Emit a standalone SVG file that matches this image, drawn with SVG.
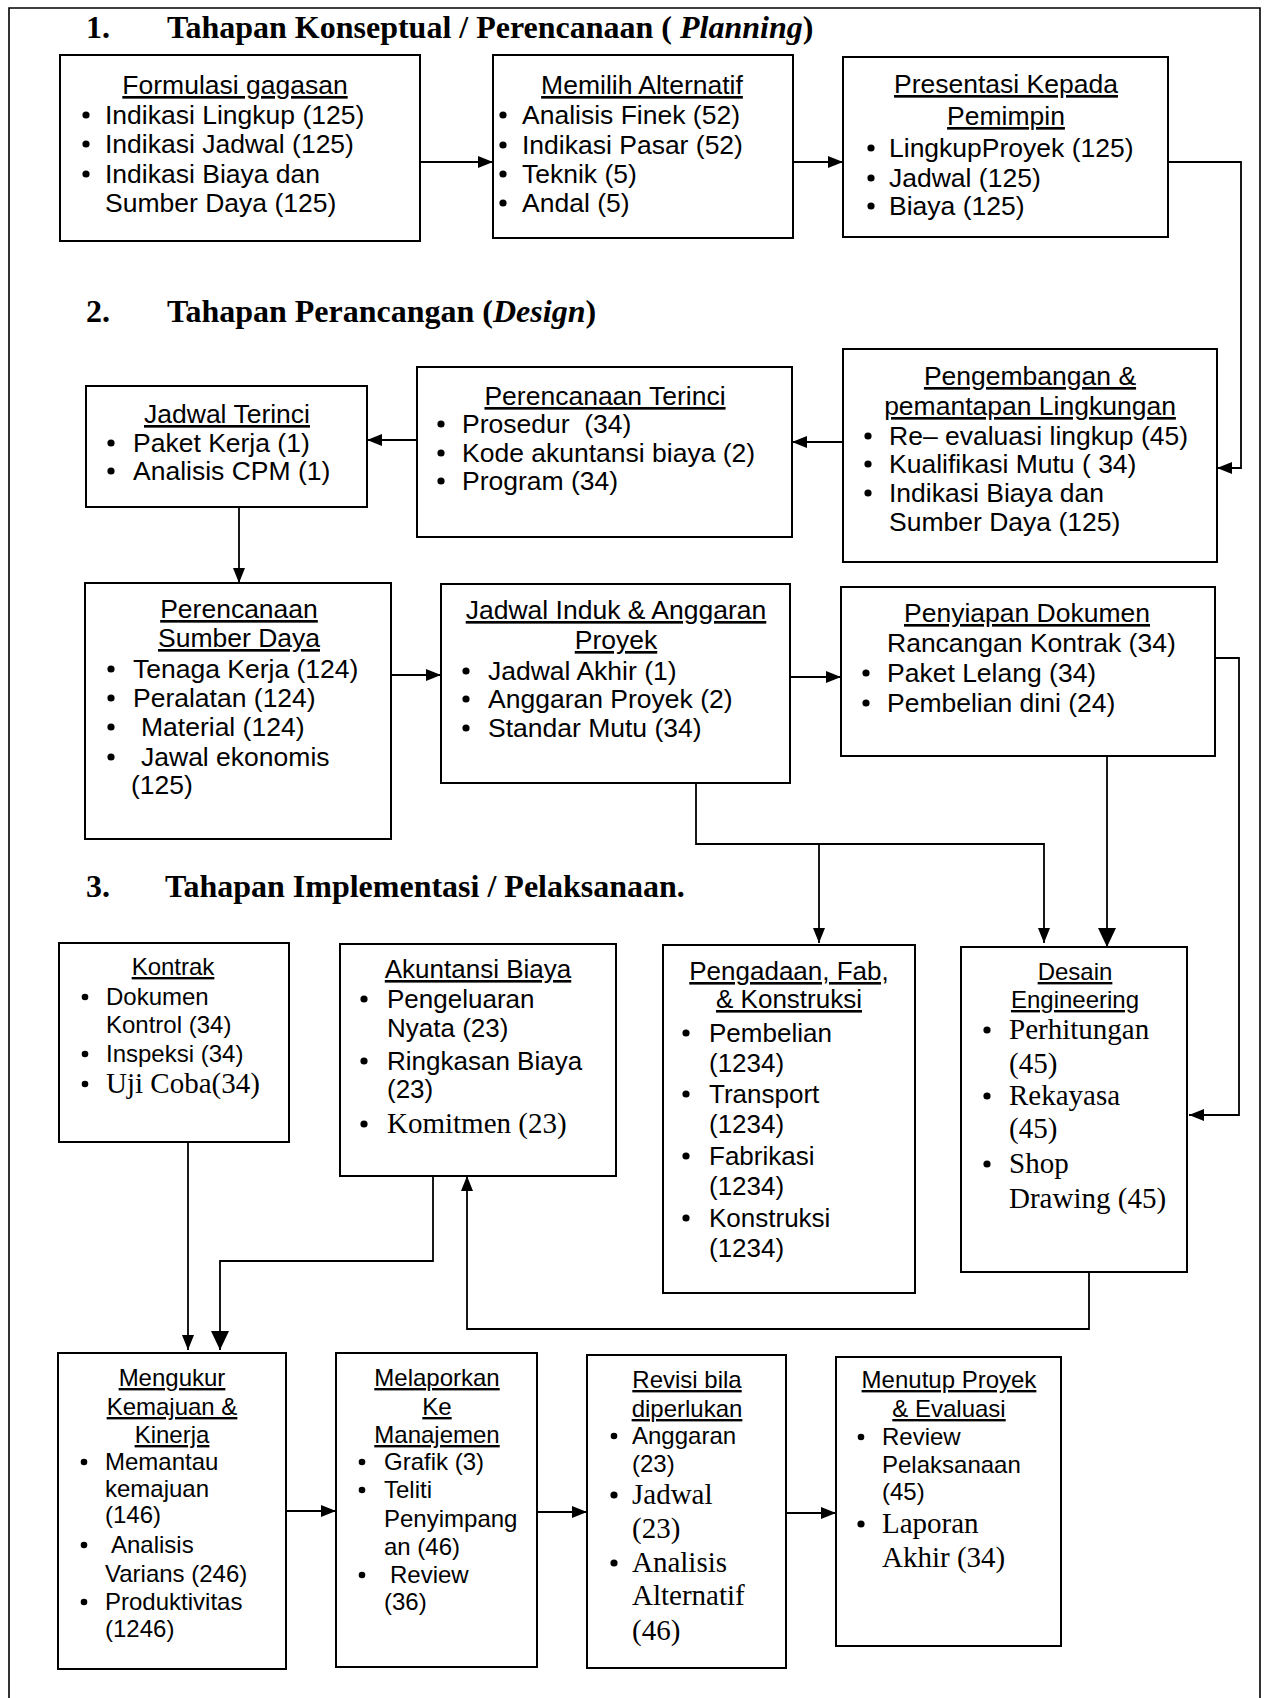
<svg xmlns="http://www.w3.org/2000/svg" width="1269" height="1698" viewBox="0 0 1269 1698">
<style>
  .box{fill:#fff;stroke:#000;stroke-width:2}
  .frame{fill:none;stroke:#000;stroke-width:1.6}
  .con{fill:none;stroke:#000;stroke-width:1.8}
  .h{font-family:"Liberation Serif","Times New Roman",serif;font-weight:bold;font-size:32px;fill:#000}
  .s27{font-family:"Liberation Sans",Arial,sans-serif;font-size:26.5px;fill:#000}
  .s26{font-family:"Liberation Sans",Arial,sans-serif;font-size:26px;fill:#000}
  .s24{font-family:"Liberation Sans",Arial,sans-serif;font-size:24px;fill:#000}
  .t29{font-family:"Liberation Serif","Times New Roman",serif;font-size:29px;fill:#000}
  .u{text-decoration:underline}
  .c{text-anchor:middle}
  .b{fill:#000}
</style>
<defs>
  <marker id="ar" markerUnits="userSpaceOnUse" markerWidth="16" markerHeight="14" refX="15" refY="7" orient="auto">
    <path d="M0,1 L15,7 L0,13 Z" fill="#000"/>
  </marker>
  <marker id="arB" markerUnits="userSpaceOnUse" markerWidth="20" markerHeight="18" refX="19" refY="9" orient="auto">
    <path d="M0,0 L19,9 L0,18 Z" fill="#000"/>
  </marker>
</defs>
<rect width="1269" height="1698" fill="#fff"/>
<path class="frame" d="M9,1698 V8 H1260 V1698"/>

<g id="titles">
  <text class="h" x="86" y="38">1.</text>
  <text class="h" x="167" y="38">Tahapan Konseptual / Perencanaan ( <tspan font-style="italic">Planning</tspan>)</text>
  <text class="h" x="86" y="322">2.</text>
  <text class="h" x="167" y="322">Tahapan Perancangan (<tspan font-style="italic">Design</tspan>)</text>
  <text class="h" x="86" y="897">3.</text>
  <text class="h" x="165" y="897">Tahapan Implementasi / Pelaksanaan.</text>
</g>

<g id="connectors">
  <path class="con" d="M420,162 H493" marker-end="url(#ar)"/>
  <path class="con" d="M793,162 H843" marker-end="url(#ar)"/>
  <path class="con" d="M1168,162 H1241 V468 H1217" marker-end="url(#ar)"/>
  <path class="con" d="M843,442 H792" marker-end="url(#ar)"/>
  <path class="con" d="M417,440 H367" marker-end="url(#ar)"/>
  <path class="con" d="M239,507 V583" marker-end="url(#ar)"/>
  <path class="con" d="M391,675 H441" marker-end="url(#ar)"/>
  <path class="con" d="M790,677 H841" marker-end="url(#ar)"/>
  <path class="con" d="M696,783 V844 H1044 V943" marker-end="url(#ar)"/>
  <path class="con" d="M819,844 V943" marker-end="url(#ar)"/>
  <path class="con" d="M1107,756 V947" stroke-width="2.4" marker-end="url(#arB)"/>
  <path class="con" d="M1215,658 H1239 V1115 H1189" marker-end="url(#ar)"/>
  <path class="con" d="M1089,1272 V1329 H467 V1176" marker-end="url(#ar)"/>
  <path class="con" d="M188,1142 V1350" marker-end="url(#ar)"/>
  <path class="con" d="M433,1176 V1261 H220 V1350" stroke-width="2.4" marker-end="url(#arB)"/>
  <path class="con" d="M286,1511 H336" marker-end="url(#ar)"/>
  <path class="con" d="M537,1512 H587" marker-end="url(#ar)"/>
  <path class="con" d="M786,1513 H836" marker-end="url(#ar)"/>
</g>

<g id="formulasi">
  <rect class="box" x="60" y="55" width="360" height="186"/>
  <text class="s27 u c" x="235" y="94">Formulasi gagasan</text>
  <circle class="b" cx="86" cy="115" r="3.6"/><text class="s27" x="105" y="124">Indikasi Lingkup (125)</text>
  <circle class="b" cx="86" cy="144" r="3.6"/><text class="s27" x="105" y="153">Indikasi Jadwal (125)</text>
  <circle class="b" cx="86" cy="174" r="3.6"/><text class="s27" x="105" y="183">Indikasi Biaya dan</text>
  <text class="s27" x="105" y="212">Sumber Daya (125)</text>
</g>

<g id="memilih">
  <rect class="box" x="493" y="55" width="300" height="183"/>
  <text class="s27 u c" x="642" y="94">Memilih Alternatif</text>
  <circle class="b" cx="503" cy="115" r="3.6"/><text class="s27" x="522" y="124">Analisis Finek (52)</text>
  <circle class="b" cx="503" cy="145" r="3.6"/><text class="s27" x="522" y="154">Indikasi Pasar (52)</text>
  <circle class="b" cx="503" cy="174" r="3.6"/><text class="s27" x="522" y="183">Teknik (5)</text>
  <circle class="b" cx="503" cy="203" r="3.6"/><text class="s27" x="522" y="212">Andal (5)</text>
</g>

<g id="presentasi">
  <rect class="box" x="843" y="57" width="325" height="180"/>
  <text class="s27 u c" x="1006" y="93">Presentasi Kepada</text>
  <text class="s27 u c" x="1006" y="125">Pemimpin</text>
  <circle class="b" cx="871" cy="148" r="3.6"/><text class="s27" x="889" y="157">LingkupProyek (125)</text>
  <circle class="b" cx="871" cy="178" r="3.6"/><text class="s27" x="889" y="187">Jadwal (125)</text>
  <circle class="b" cx="871" cy="206" r="3.6"/><text class="s27" x="889" y="215">Biaya (125)</text>
</g>

<g id="pengembangan">
  <rect class="box" x="843" y="349" width="374" height="213"/>
  <text class="s27 u c" x="1030" y="385">Pengembangan &amp;</text>
  <text class="s27 u c" x="1030" y="415">pemantapan Lingkungan</text>
  <circle class="b" cx="868" cy="436" r="3.6"/><text class="s27" x="889" y="445">Re– evaluasi lingkup (45)</text>
  <circle class="b" cx="868" cy="464" r="3.6"/><text class="s27" x="889" y="473">Kualifikasi Mutu ( 34)</text>
  <circle class="b" cx="868" cy="493" r="3.6"/><text class="s27" x="889" y="502">Indikasi Biaya dan</text>
  <text class="s27" x="889" y="531">Sumber Daya (125)</text>
</g>

<g id="perencanaan-terinci">
  <rect class="box" x="417" y="367" width="375" height="170"/>
  <text class="s27 u c" x="605" y="405">Perencanaan Terinci</text>
  <circle class="b" cx="441" cy="424" r="3.6"/><text class="s27" x="462" y="433" xml:space="preserve">Prosedur  (34)</text>
  <circle class="b" cx="441" cy="453" r="3.6"/><text class="s27" x="462" y="462">Kode akuntansi biaya (2)</text>
  <circle class="b" cx="441" cy="481" r="3.6"/><text class="s27" x="462" y="490">Program (34)</text>
</g>

<g id="jadwal-terinci">
  <rect class="box" x="86" y="386" width="281" height="121"/>
  <text class="s27 u c" x="227" y="423">Jadwal Terinci</text>
  <circle class="b" cx="111" cy="443" r="3.6"/><text class="s27" x="133" y="452">Paket Kerja (1)</text>
  <circle class="b" cx="111" cy="471" r="3.6"/><text class="s27" x="133" y="480">Analisis CPM (1)</text>
</g>

<g id="perencanaan-sumber-daya">
  <rect class="box" x="85" y="583" width="306" height="256"/>
  <text class="s27 u c" x="239" y="618">Perencanaan</text>
  <text class="s27 u c" x="239" y="647">Sumber Daya</text>
  <circle class="b" cx="111" cy="669" r="3.6"/><text class="s27" x="133" y="678">Tenaga Kerja (124)</text>
  <circle class="b" cx="111" cy="698" r="3.6"/><text class="s27" x="133" y="707">Peralatan (124)</text>
  <circle class="b" cx="111" cy="727" r="3.6"/><text class="s27" x="141" y="736">Material (124)</text>
  <circle class="b" cx="111" cy="757" r="3.6"/><text class="s27" x="141" y="766">Jawal ekonomis</text>
  <text class="s27" x="131" y="794">(125)</text>
</g>

<g id="jadwal-induk">
  <rect class="box" x="441" y="584" width="349" height="199"/>
  <text class="s27 u c" x="616" y="619">Jadwal Induk &amp; Anggaran</text>
  <text class="s27 u c" x="616" y="649">Proyek</text>
  <circle class="b" cx="466" cy="671" r="3.6"/><text class="s27" x="488" y="680">Jadwal Akhir (1)</text>
  <circle class="b" cx="466" cy="699" r="3.6"/><text class="s27" x="488" y="708">Anggaran Proyek (2)</text>
  <circle class="b" cx="466" cy="728" r="3.6"/><text class="s27" x="488" y="737">Standar Mutu (34)</text>
</g>

<g id="penyiapan-dokumen">
  <rect class="box" x="841" y="587" width="374" height="169"/>
  <text class="s27 u c" x="1027" y="622">Penyiapan Dokumen</text>
  <text class="s27" x="887" y="652">Rancangan Kontrak (34)</text>
  <circle class="b" cx="866" cy="673" r="3.6"/><text class="s27" x="887" y="682">Paket Lelang (34)</text>
  <circle class="b" cx="866" cy="703" r="3.6"/><text class="s27" x="887" y="712">Pembelian dini (24)</text>
</g>

<g id="kontrak">
  <rect class="box" x="59" y="943" width="230" height="199"/>
  <text class="s24 u c" x="173" y="975">Kontrak</text>
  <circle class="b" cx="85" cy="997" r="3.3"/><text class="s24" x="106" y="1005">Dokumen</text>
  <text class="s24" x="106" y="1033">Kontrol (34)</text>
  <circle class="b" cx="85" cy="1054" r="3.3"/><text class="s24" x="106" y="1062">Inspeksi (34)</text>
  <circle class="b" cx="85" cy="1084" r="3.3"/><text class="t29" x="106" y="1093">Uji Coba(34)</text>
</g>

<g id="akuntansi-biaya">
  <rect class="box" x="340" y="944" width="276" height="232"/>
  <text class="s26 u c" x="478" y="978">Akuntansi Biaya</text>
  <circle class="b" cx="364" cy="999" r="3.6"/><text class="s26" x="387" y="1008">Pengeluaran</text>
  <text class="s26" x="387" y="1037">Nyata (23)</text>
  <circle class="b" cx="364" cy="1061" r="3.6"/><text class="s26" x="387" y="1070">Ringkasan Biaya</text>
  <text class="s26" x="387" y="1098">(23)</text>
  <circle class="b" cx="364" cy="1124" r="3.6"/><text class="t29" x="387" y="1133">Komitmen (23)</text>
</g>

<g id="pengadaan">
  <rect class="box" x="663" y="945" width="252" height="348"/>
  <text class="s26 u c" x="789" y="980">Pengadaan, Fab,</text>
  <text class="s26 u c" x="789" y="1008">&amp; Konstruksi</text>
  <circle class="b" cx="686" cy="1033" r="3.6"/><text class="s26" x="709" y="1042">Pembelian</text>
  <text class="s26" x="709" y="1072">(1234)</text>
  <circle class="b" cx="686" cy="1094" r="3.6"/><text class="s26" x="709" y="1103">Transport</text>
  <text class="s26" x="709" y="1133">(1234)</text>
  <circle class="b" cx="686" cy="1156" r="3.6"/><text class="s26" x="709" y="1165">Fabrikasi</text>
  <text class="s26" x="709" y="1195">(1234)</text>
  <circle class="b" cx="686" cy="1218" r="3.6"/><text class="s26" x="709" y="1227">Konstruksi</text>
  <text class="s26" x="709" y="1257">(1234)</text>
</g>

<g id="desain-engineering">
  <rect class="box" x="961" y="947" width="226" height="325"/>
  <text class="s24 u c" x="1075" y="980">Desain</text>
  <text class="s24 u c" x="1075" y="1008">Engineering</text>
  <circle class="b" cx="987" cy="1030" r="3.6"/><text class="t29" x="1009" y="1039">Perhitungan</text>
  <text class="t29" x="1009" y="1073">(45)</text>
  <circle class="b" cx="987" cy="1096" r="3.6"/><text class="t29" x="1009" y="1105">Rekayasa</text>
  <text class="t29" x="1009" y="1138">(45)</text>
  <circle class="b" cx="987" cy="1164" r="3.6"/><text class="t29" x="1009" y="1173">Shop</text>
  <text class="t29" x="1009" y="1208">Drawing (45)</text>
</g>

<g id="mengukur">
  <rect class="box" x="58" y="1353" width="228" height="316"/>
  <text class="s24 u c" x="172" y="1386">Mengukur</text>
  <text class="s24 u c" x="172" y="1415">Kemajuan &amp;</text>
  <text class="s24 u c" x="172" y="1443">Kinerja</text>
  <circle class="b" cx="84" cy="1462" r="3.3"/><text class="s24" x="105" y="1470">Memantau</text>
  <text class="s24" x="105" y="1497">kemajuan</text>
  <text class="s24" x="105" y="1523">(146)</text>
  <circle class="b" cx="84" cy="1545" r="3.3"/><text class="s24" x="111" y="1553">Analisis</text>
  <text class="s24" x="105" y="1582">Varians (246)</text>
  <circle class="b" cx="84" cy="1602" r="3.3"/><text class="s24" x="105" y="1610">Produktivitas</text>
  <text class="s24" x="105" y="1637">(1246)</text>
</g>

<g id="melaporkan">
  <rect class="box" x="336" y="1353" width="201" height="314"/>
  <text class="s24 u c" x="437" y="1386">Melaporkan</text>
  <text class="s24 u c" x="437" y="1415">Ke</text>
  <text class="s24 u c" x="437" y="1443">Manajemen</text>
  <circle class="b" cx="362" cy="1462" r="3.3"/><text class="s24" x="384" y="1470">Grafik (3)</text>
  <circle class="b" cx="362" cy="1490" r="3.3"/><text class="s24" x="384" y="1498">Teliti</text>
  <text class="s24" x="384" y="1527">Penyimpang</text>
  <text class="s24" x="384" y="1555">an (46)</text>
  <circle class="b" cx="362" cy="1575" r="3.3"/><text class="s24" x="390" y="1583">Review</text>
  <text class="s24" x="384" y="1610">(36)</text>
</g>

<g id="revisi">
  <rect class="box" x="587" y="1355" width="199" height="313"/>
  <text class="s24 u c" x="687" y="1388">Revisi bila</text>
  <text class="s24 u c" x="687" y="1417">diperlukan</text>
  <circle class="b" cx="614" cy="1436" r="3.3"/><text class="s24" x="632" y="1444">Anggaran</text>
  <text class="s24" x="632" y="1472">(23)</text>
  <circle class="b" cx="614" cy="1495" r="3.6"/><text class="t29" x="632" y="1504">Jadwal</text>
  <text class="t29" x="632" y="1538">(23)</text>
  <circle class="b" cx="614" cy="1563" r="3.6"/><text class="t29" x="632" y="1572">Analisis</text>
  <text class="t29" x="632" y="1605">Alternatif</text>
  <text class="t29" x="632" y="1640">(46)</text>
</g>

<g id="menutup">
  <rect class="box" x="836" y="1357" width="225" height="289"/>
  <text class="s24 u c" x="949" y="1388">Menutup Proyek</text>
  <text class="s24 u c" x="949" y="1417">&amp; Evaluasi</text>
  <circle class="b" cx="861" cy="1437" r="3.3"/><text class="s24" x="882" y="1445">Review</text>
  <text class="s24" x="882" y="1473">Pelaksanaan</text>
  <text class="s24" x="882" y="1500">(45)</text>
  <circle class="b" cx="861" cy="1524" r="3.6"/><text class="t29" x="882" y="1533">Laporan</text>
  <text class="t29" x="882" y="1567">Akhir (34)</text>
</g>
</svg>
